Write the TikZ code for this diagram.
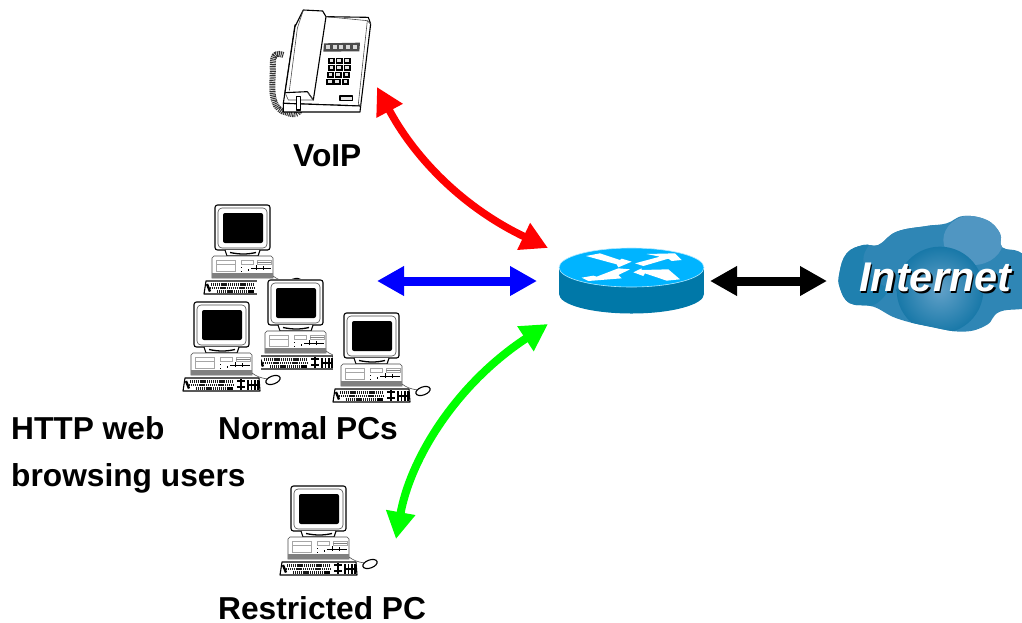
\documentclass[tikz,border=0pt]{standalone}
\usepackage{fontspec}
\setmainfont{Liberation Sans}
\usetikzlibrary{arrows.meta}
\definecolor{routertop}{HTML}{00B4FF}
\definecolor{routerside}{HTML}{0078A8}
\definecolor{cloudmain}{HTML}{2F86B5}
\definecolor{cloudlight}{HTML}{5096C2}
\definecolor{clouddark}{HTML}{1878A8}
\definecolor{cloudleft}{HTML}{1F80AF}
\definecolor{arrowred}{HTML}{FF0000}
\definecolor{arrowblue}{HTML}{0000FF}
\definecolor{arrowgreen}{HTML}{00FF00}
\tikzset{
  lbl/.style={font=\fontsize{31.7}{34}\selectfont\bfseries,inner sep=0pt,anchor=base west},
  tipped/.style={{Triangle[length=27pt,width=28pt]}-{Triangle[length=27pt,width=28pt]}},
  link/.style={tipped,line width=#1},
  ink/.style={black,line width=1.1pt,line join=round},
  thin ink/.style={black!70,line width=0.6pt},
  keys/.style={black!90,line width=2.6pt,dash pattern=on 1.2pt off 0.7pt}
}
\newcommand{\pcat}[2]{%
\begin{scope}[shift={(#1,#2)}]
  \fill[white] (-11,-1) rectangle (67,90);
  % monitor
  \draw[ink,fill=white,rounded corners=2.5pt] (0,0) rectangle (55,45);
  \draw[thin ink,rounded corners=4pt] (3,3) rectangle (52,43);
  \fill[black,rounded corners=2pt] (8,8) rectangle (48,38);
  \draw[ink,fill=white] (10,45) -- (12,51) -- (43,51) -- (45,45);
  \draw[black,line width=1.3pt] (15,47.5) .. controls (25,49.5) and (32,49.5) .. (41,47.5);
  % case
  \draw[thin ink,fill=white] (-3,53) -- (-1,51) -- (56,51) -- (58,53) -- (58,73) -- (-3,73) -- cycle;
  \fill[black!50] (-3,68) rectangle (58,73);
  \draw[black!35,line width=0.5pt] (1,55) rectangle (20,66) (1,59) -- (20,59);
  \draw[black!35,line width=0.5pt] (26,55) rectangle (38,59) (42,55) rectangle (56,59);
  \draw[black!50,line width=0.5pt] (42,57) -- (56,57);
  \draw[black,line width=1pt] (36,63) -- (56,63);
  \draw[black,line width=1pt] (26,62) -- (27,62) (26,66) -- (27,66) (41,60) -- (41,65) (48,61) -- (48,65) (33,64) -- (33,66);
  % cable
  \draw[thin ink] (58,71) .. controls (62,74) and (66,76) .. (74,77);
  % keyboard
  \draw[ink,fill=white] (-9,76) -- (-11,89) -- (66,89) -- (65,76) -- cycle;
  \draw[keys] (-4,79.5) -- (39,79.5);
  \draw[keys] (-5,83) -- (39,83);
  \draw[black,line width=2.4pt] (-8,79) -- (-5,86.5);
  \draw[keys] (2,86.3) -- (32,86.3);
  \draw[black,line width=2.4pt] (33,86.3) -- (39,86.3);
  \draw[black,line width=1.6pt] (43,79) -- (51,79) (47,77) -- (47,88) (43,85) -- (51,85);
  \draw[black,line width=1.2pt] (54,78) -- (54,88) (57.5,78) -- (57.5,88) (61,78) -- (61,88) (64,78) -- (64,88) (54,83) -- (64,83);
  % mouse
  \draw[ink,fill=white,rotate around={20:(79,78)}] (79,78) ellipse (7.5 and 4);
\end{scope}}
\begin{document}
\begin{tikzpicture}[x=1pt,y=-1pt]
\useasboundingbox (0,0) rectangle (1022,622);
\fill[white] (0,0) rectangle (1022,622);

% ---------- phone
\begin{scope}[shift={(250,0)},x=0.3333pt,y=-0.3333pt]
  \draw[black!80,line width=6pt,dash pattern=on 1pt off 0.8pt,line join=round] (100,165) .. controls (60,150) and (70,190) .. (68,230) .. controls (64,290) and (70,330) .. (110,338) .. controls (135,348) and (160,345) .. (146,300);
  \draw[ink,fill=white] (228,50) -- (355,52) -- (362,72) -- (332,318) -- (100,310) -- (135,75) -- cycle;
  \draw[ink,fill=white] (100,310) -- (332,318) -- (330,336) -- (100,336) -- cycle;
  \draw[ink,fill=white] (160,30) -- (218,33) -- (228,50) -- (190,300) -- (172,275) -- (105,278) -- (135,80) -- cycle;
  \draw[thin ink] (172,275) -- (190,300) -- (115,300) -- (105,278);
  \draw[thin ink] (228,50) -- (352,62) -- (362,72);
  \draw[thin ink] (352,62) -- (325,312) -- (332,318);
  \draw[thin ink] (160,30) -- (142,85) -- (118,272);
  \fill[black!70] (222,130) -- (330,128) -- (328,154) -- (220,155) -- cycle;
  \foreach \kx in {234,254,274,294,315} \fill[white!85!black] (\kx-6,136) rectangle (\kx+6,148);
  \foreach \kx/\ky in {245/182,268/182,292/182,245/203,268/203,292/203,242/225,265/225,290/225,240/246,262/246,287/246} {
    \fill[black] (\kx-11,\ky-9) rectangle (\kx+11,\ky+10);
    \fill[white!90!black] (\kx-6,\ky-5) rectangle (\kx+5,\ky+3);
  }
  \draw[ink,fill=black!10] (270,288) rectangle (308,302);
  \draw[ink,fill=white] (140,290) rectangle (152,330);
\end{scope}

% ---------- computers
\pcat{215}{205}
\pcat{268}{280}
\pcat{194}{302}
\pcat{344}{313}
\pcat{291}{486}

% ---------- router
\fill[routerside] (631.5,294) ellipse (72.5 and 19.5);
\fill[routerside] (559,267) rectangle (704,294);
\fill[routertop] (631.5,267.5) ellipse (72.5 and 19.5);
\draw[white!70!routertop,line width=0.6pt] (631.5,267.5) ellipse (72.5 and 19.5);
\begin{scope}[shift={(550,210)},x=0.3333pt,y=-0.3333pt]
  \fill[white] (108,138) -- (150,130) -- (210,150) -- (215,146) -- (245,155) -- (205,172) -- (200,163) -- cycle;
  \fill[white] (255,160) -- (330,140) -- (290,132) -- (375,130) -- (395,150) -- (365,153) -- (355,146) -- (280,168) -- cycle;
  \fill[white] (240,178) -- (205,195) -- (215,205) -- (115,213) -- (95,203) -- (130,197) -- (140,200) -- (205,175) -- cycle;
  \fill[white] (250,187) -- (275,175) -- (275,180) -- (355,178) -- (390,208) -- (350,212) -- (285,190) -- (280,198) -- cycle;
\end{scope}

% ---------- cloud
\begin{scope}[shift={(830,210)},x=0.3333pt,y=-0.3333pt]
  \def\cloudpath{plot[smooth cycle,tension=0.7] coordinates {(28,190) (50,130) (100,105) (145,105) (200,65) (290,48) (350,40) (400,18) (470,30) (510,70) (517,112) (576,130) (640,200) (610,285) (510,305) (470,345) (400,365) (300,350) (200,325) (130,290) (60,280) (30,235)}}
  \fill[cloudmain] \cloudpath;
  \begin{scope}
    \clip \cloudpath;
    \fill[cloudleft] (90,195) ellipse (95 and 100);
    \fill[cloudmain] (290,150) ellipse (190 and 105);
    \fill[cloudlight] (430,90) ellipse (90 and 75);
    \shade[inner color=cloudlight!90!white,outer color=clouddark] (330,240) circle (130);
  \end{scope}
\end{scope}
\node[font=\fontsize{41.5}{44}\selectfont\bfseries\itshape,text=black,inner sep=0pt] (internetshadow) at (937,279) {Internet};
\node[font=\fontsize{41.5}{44}\selectfont\bfseries\itshape,text=white,inner sep=0pt] (internet) at (935.3,277.3) {Internet};

% ---------- connector ends
\coordinate (phoneend) at (377,87);
\coordinate (routerA) at (548,248);
\coordinate (pcsend) at (377,281);
\coordinate (routerB) at (537,281);
\coordinate (restrictedend) at (396,539);
\coordinate (routerC) at (548,324);
\coordinate (routerD) at (710,281);
\coordinate (cloudend) at (827,281);

% ---------- connectors
\draw[link=7.5pt,arrowred] (phoneend) .. controls (412,153) and (458,205) .. (routerA);
\draw[link=9pt,arrowblue] (pcsend) -- (routerB);
\draw[link=8pt,arrowgreen] (routerC) .. controls (455,385) and (410,460) .. (restrictedend);
\draw[link=9pt,black] (routerD) -- (cloudend);

% ---------- labels
\node[lbl] (voip) at (293,166) {VoIP};
\node[lbl] (normal) at (218,439) {Normal PCs};
\node[lbl] (http) at (11,439) {HTTP web};
\node[lbl] (browse) at (11,486) {browsing users};
\node[lbl] (restricted) at (218,619) {Restricted PC};
\end{tikzpicture}
\end{document}
